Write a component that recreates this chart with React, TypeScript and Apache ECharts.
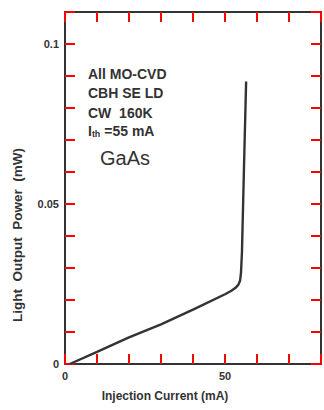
import React, { useEffect, useRef } from "react";
import * as echarts from "echarts";

const currentMA = [1.5, 10, 20, 30, 40, 50, 52, 53.3, 54.2, 54.7, 55.0, 55.3, 55.9, 56.6];
const powerMW = [0, 0.0038, 0.0083, 0.0124, 0.017, 0.0218, 0.0229, 0.0238, 0.0248, 0.026, 0.0285, 0.035, 0.06, 0.0883];
const xTickLabels = ["0", "50"];
const yTickLabels = ["0", "0.05", "0.1"];
const annotationLines = ["All MO-CVD", "CBH SE LD", "CW  160K"];
const xTitle = "Injection Current (mA)";
const yTitle = "Light  Output  Power  (mW)";

const INK = "#333333";
const TICK = "#ff0000";
const FONT = "'Liberation Sans', Arial, sans-serif";

export default function App() {
  const ref = useRef<HTMLDivElement>(null);
  useEffect(() => {
    if (!ref.current) return;
    const chart = echarts.init(ref.current, undefined, { renderer: "svg" });
    const data = currentMA.map((x, i) => [x, powerMW[i]]);
    const near = (v: number, t: string) => Math.abs(v - parseFloat(t)) < 1e-9;
    const fmtX = (v: number) => xTickLabels.find((t) => near(v, t)) ?? "";
    const fmtY = (v: number) => yTickLabels.find((t) => near(v, t)) ?? "";
    chart.setOption({
      animation: false,
      backgroundColor: "#ffffff",
      grid: { left: 65, top: 12, width: 261, height: 352, containLabel: false },
      xAxis: [
        {
          type: "value", min: 0, max: 80, interval: 10, position: "bottom",
          axisLine: { show: true, onZero: false, lineStyle: { color: INK, width: 2 } },
          axisTick: { show: true, inside: true, length: 10, lineStyle: { color: TICK, width: 2 } },
          splitLine: { show: false },
          axisLabel: { color: INK, fontFamily: FONT, fontWeight: "bold", fontSize: 11, margin: 6, formatter: fmtX },
        },
        {
          type: "value", min: 0, max: 80, interval: 10, position: "top",
          axisLine: { show: true, onZero: false, lineStyle: { color: INK, width: 2 } },
          axisTick: { show: true, inside: true, length: 10, lineStyle: { color: TICK, width: 2 } },
          splitLine: { show: false }, axisLabel: { show: false },
        },
      ],
      yAxis: [
        {
          type: "value", min: 0, max: 0.11, interval: 0.01, position: "left",
          axisLine: { show: true, onZero: false, lineStyle: { color: INK, width: 2 } },
          axisTick: { show: true, inside: true, length: 10, lineStyle: { color: TICK, width: 2 } },
          splitLine: { show: false },
          axisLabel: { color: INK, fontFamily: FONT, fontWeight: "bold", fontSize: 11, margin: 6, formatter: fmtY },
        },
        {
          type: "value", min: 0, max: 0.11, interval: 0.01, position: "right",
          axisLine: { show: true, onZero: false, lineStyle: { color: INK, width: 2 } },
          axisTick: { show: true, inside: true, length: 10, lineStyle: { color: TICK, width: 2 } },
          splitLine: { show: false }, axisLabel: { show: false },
        },
      ],
      series: [
        { type: "line", data, showSymbol: false, lineStyle: { color: INK, width: 2.4 } },
      ],
      graphic: [
        ...annotationLines.map((t, i) => ({
          type: "text",
          left: 88,
          top: 67 + i * 19.3,
          style: { text: t, fill: INK, font: `bold 14px ${FONT}` },
        })),
        {
          type: "text",
          left: 88,
          top: 124,
          style: {
            text: "{a|I}{b|th}{a| =55 mA}",
            rich: {
              a: { fill: INK, font: `bold 14px ${FONT}` },
              b: { fill: INK, font: `bold 9px ${FONT}`, padding: [6, 0, 0, 0] },
            },
          },
        },
        {
          type: "text",
          left: 100,
          top: 148,
          style: { text: "GaAs", fill: INK, font: `500 20px ${FONT}` },
        },
        {
          type: "text",
          x: 165,
          y: 396,
          style: { text: xTitle, fill: INK, font: `bold 12px ${FONT}`, align: "center", verticalAlign: "middle" },
        },
        {
          type: "text",
          x: 17,
          y: 235,
          rotation: Math.PI / 2,
          style: { text: yTitle, fill: INK, font: `bold 13.5px ${FONT}`, align: "center", verticalAlign: "middle" },
        },
      ],
    });
    return () => chart.dispose();
  }, []);
  return (
    <div
      ref={ref}
      style={{ position: "absolute", left: 0, top: 0, width: 324, height: 410, background: "#fff" }}
    />
  );
}
